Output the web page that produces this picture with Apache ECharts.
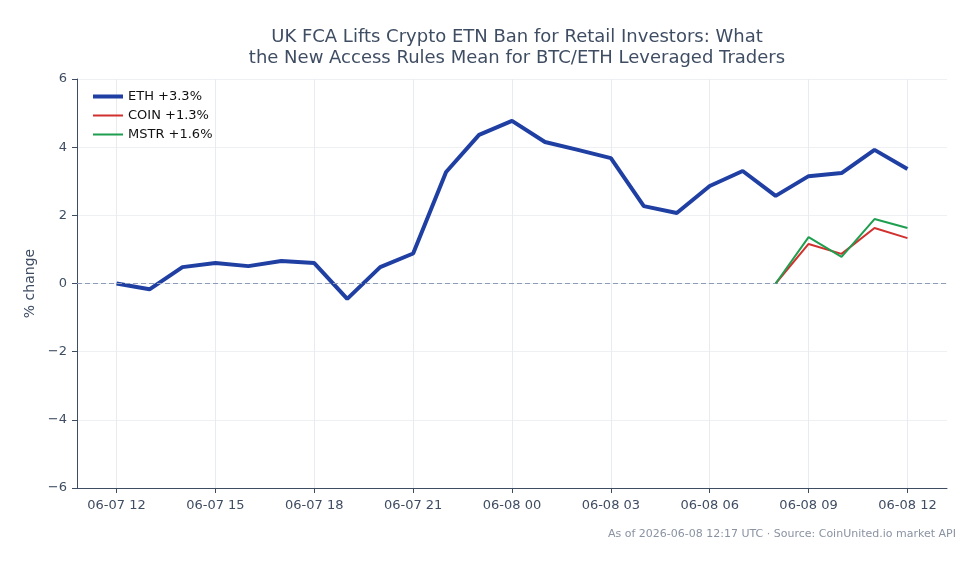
<!DOCTYPE html>
<html>
<head>
<meta charset="utf-8">
<script src="https://cdn.jsdelivr.net/npm/echarts@6/dist/echarts.min.js"></script>
<style>
	html, body { margin: 0; padding: 0; background: #fff; }
	#main { width: 979px; height: 564px; }
</style>
</head>
<body>
<div id="main"></div>
<script>
// hours since 06-07 12:00
var ethHours = [0, 1, 2, 3, 4, 5, 6, 7, 8, 9, 10, 11, 12, 13, 14, 15, 16, 17, 18, 19, 20, 21, 22, 23, 24];
var ethValues = [0.0, -0.17, 0.48, 0.6, 0.51, 0.66, 0.6, -0.45, 0.48, 0.88, 3.27, 4.36, 4.77, 4.15, 3.92, 3.68, 2.27, 2.07, 2.86, 3.3, 2.57, 3.15, 3.24, 3.92, 3.36];
var stockHours = [20, 21, 22, 23, 24];
var coinValues = [0, 1.16, 0.87, 1.63, 1.33];
var mstrValues = [0, 1.36, 0.78, 1.89, 1.63];
var tickHours = [0, 3, 6, 9, 12, 15, 18, 21, 24];
var tickLabels = ['06-07 12', '06-07 15', '06-07 18', '06-07 21', '06-08 00', '06-08 03', '06-08 06', '06-08 09', '06-08 12'];

var font = 'DejaVu Sans';
// legend swatches: a thick and a thin bar inside a 30x10 box
var thickIcon = 'path://M0,0L1,0M0,3H30V7H0ZM0,10L1,10';
var thinIcon = 'path://M0,0L1,0M0,4H30V6H0ZM0,10L1,10';

function pairs(hours, vals) {
	var out = [];
	for (var i = 0; i < hours.length; i++) {
		out.push([hours[i], vals[i]]);
	}
	return out;
}

var chart = echarts.init(document.getElementById('main'));

var option = {
	animation: false,
	backgroundColor: '#fff',
	title: {
		text: 'UK FCA Lifts Crypto ETN Ban for Retail Investors: What\nthe New Access Rules Mean for BTC/ETH Leveraged Traders',
		left: 512,
		textAlign: 'center',
		top: 22,
		textStyle: {
			fontFamily: font,
			fontSize: 18,
			fontWeight: 'normal',
			color: '#3f4d63',
			lineHeight: 21
		}
	},
	graphic: [{
		type: 'text',
		right: 23,
		top: 529,
		style: {
			text: 'As of 2026-06-08 12:17 UTC · Source: CoinUnited.io market API',
			font: '11px "DejaVu Sans"',
			fill: '#8a93a2'
		}
	}],
	legend: {
		left: 88,
		top: 85,
		orient: 'vertical',
		itemWidth: 30,
		itemHeight: 10,
		itemGap: 6,
		textStyle: { fontFamily: font, fontSize: 13, color: '#111' },
		data: [
			{ name: 'ETH +3.3%', icon: thickIcon },
			{ name: 'COIN +1.3%', icon: thinIcon },
			{ name: 'MSTR +1.6%', icon: thinIcon }
		]
	},
	grid: {
		left: 77,
		right: 32,
		top: 79,
		bottom: 76,
		containLabel: false
	},
	xAxis: {
		type: 'value',
		min: -1.2,
		max: 25.2,
		axisLine: { onZero: false, lineStyle: { color: '#3f4d63', width: 1 } },
		axisTick: { show: true, length: 5, lineStyle: { color: '#3f4d63' }, customValues: tickHours },
		splitLine: { show: true, lineStyle: { color: '#e8ebf0', width: 1 } },
		axisLabel: {
			customValues: tickHours,
			fontFamily: font,
			fontSize: 13,
			color: '#3f4d63',
			margin: 11,
			formatter: function(v) {
				var i = tickHours.indexOf(Math.round(v));
				return i >= 0 ? tickLabels[i] : '';
			}
		}
	},
	yAxis: {
		type: 'value',
		min: -6,
		max: 6,
		interval: 2,
		name: '% change',
		nameLocation: 'middle',
		nameGap: 40,
		nameTextStyle: { fontFamily: font, fontSize: 14, color: '#3f4d63' },
		axisLine: { show: true, onZero: false, lineStyle: { color: '#3f4d63', width: 1 } },
		axisTick: { show: true, length: 5, lineStyle: { color: '#3f4d63' } },
		splitLine: { show: true, lineStyle: { color: '#eef0f3', width: 1 } },
		axisLabel: {
			fontFamily: font,
			fontSize: 13,
			color: '#3f4d63',
			margin: 10,
			formatter: function(v) { return String(v).replace('-', '\u2212'); }
		}
	},
	series: [{
		name: 'ETH +3.3%',
		type: 'line',
		data: pairs(ethHours, ethValues),
		symbol: 'none',
		lineStyle: { color: '#1f3fa3', width: 4 },
		itemStyle: { color: '#1f3fa3' },
		z: 3,
		markLine: {
			silent: true,
			symbol: 'none',
			label: { show: false },
			lineStyle: { color: '#8e9cb8', type: [5, 3], width: 1 },
			data: [{ yAxis: 0 }]
		}
	}, {
		name: 'COIN +1.3%',
		type: 'line',
		data: pairs(stockHours, coinValues),
		symbol: 'none',
		lineStyle: { color: '#d1312e', width: 2 },
		itemStyle: { color: '#d1312e' },
		z: 4
	}, {
		name: 'MSTR +1.6%',
		type: 'line',
		data: pairs(stockHours, mstrValues),
		symbol: 'none',
		lineStyle: { color: '#1e9e4f', width: 2 },
		itemStyle: { color: '#1e9e4f' },
		z: 5
	}]
};

chart.setOption(option);
</script>
</body>
</html>
